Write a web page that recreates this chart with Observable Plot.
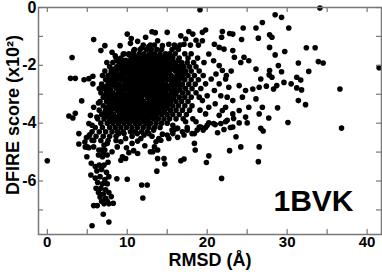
<!DOCTYPE html>
<html><head><meta charset="utf-8">
<script src="https://cdn.jsdelivr.net/npm/d3@7"></script>
<script src="https://cdn.jsdelivr.net/npm/@observablehq/plot@0.6"></script>
<style>body{margin:0;background:#fff;}</style>
</head><body><div id="chart"></div>
<script>
// Tick values
const xTickLabels = [0, 10, 20, 30, 40];
const yTickLabels = [0, -2, -4, -6];
const xTicks = [0, 5, 10, 15, 20, 25, 30, 35, 40];
const yTicks = [0, -1, -2, -3, -4, -5, -6, -7];
const xTitle = "RMSD (Å)";
const yTitle = "DFIRE score (x10²)";
const tag = "1BVK";

// [RMSD (Å), DFIRE score (x10^2)]
const topScatter = [[10.0,-0.92],[5.8,-1.11],[3.1,-1.73],[2.9,-2.45],[3.5,-2.45],[4.6,-2.5],[5.2,-2.46],[5.7,-2.38],[5.7,-2.64],[6.5,-2.8],[4.3,-3.23],[6.4,-3.3],[5.8,-3.45],[2.7,-3.75],[3.5,-3.66],[3.2,-3.82],[5.4,-3.73],[6.2,-3.79],[3.95,-4.36],[3.95,-4.72],[0,-5.3],
[6.7,-1.49],[7.2,-1.32],[8.1,-1.55],[9.1,-1.32],[10.5,-1.07],[11.3,-1.17],[10.4,-1.24],[13.1,-0.84],[12.3,-1.03],[7.45,-1.9],[7.8,-2.05],[8.7,-1.84],[9.3,-1.82],[8.5,-1.67],[9.5,-1.61],[10.2,-1.63],[10.8,-1.5],[11.8,-1.4],[12.0,-1.3],[12.7,-1.35],
[19.1,-0.08],[26.9,-0.52],[26.1,-0.71],[24.5,-0.71],[26.4,-1.06],[24.3,-1.11],[21.9,-0.83],[22.8,-0.9],[23.2,-0.92],[21.8,-1.03],[19.8,-0.78],[19.4,-0.86],[17.7,-0.83],[18.2,-0.92],[15.0,-0.86],[13.5,-0.87],[16.7,-0.98],[17.3,-1.09],[17.1,-1.27],[18.6,-1.13],[19.4,-1.15],[13.8,-1.15],[14.4,-1.32],[15.2,-1.27],[16.1,-1.38],[20.9,-1.27],[21.5,-1.38],[22.1,-1.44],[23.2,-1.49],[24.6,-1.72],[25.2,-1.84],[24.2,-1.9],[23.4,-1.72]];

const rightScatter = [[26.1,-2.13],[26.7,-2.47],[26.5,-2.76],[25.7,-2.82],[24.8,-2.87],[24.0,-2.7],[24.4,-3.1],[25.2,-3.45],[26.1,-3.16],[24.0,-3.56],[23.2,-3.22],[22.3,-3.45],[21.5,-3.73],[23.2,-3.68],[24.8,-3.79],[26.5,-3.68],[26.9,-3.45],
[20.2,-1.61],[20.8,-1.84],[21.5,-2.01],[21.9,-2.18],[21.1,-2.3],[20.5,-2.47],[19.8,-2.64],[21.5,-2.64],[22.3,-2.47],[22.7,-2.76],[20.9,-2.87],[20.0,-3.05],[21.7,-3.05],[22.5,-3.1],[21.0,-3.33],[19.4,-3.22],[20.2,-3.45],[21.9,-3.56],[19.8,-3.68],
[34.1,-0.02],[28.5,-0.25],[29.3,-0.34],[30.2,-0.71],[27.8,-0.94],[28.1,-1.03],[27.8,-1.38],[28.5,-1.64],[29.7,-1.52],[32.4,-1.39],[33.5,-1.39],[33.9,-1.87],[34.5,-1.92],[31.4,-1.92],[28.9,-2.01],[27.8,-2.18],[27.75,-2.33],[28.1,-2.41],[29.3,-2.22],[32.7,-2.21],[41.5,-2.08],[31.2,-2.41],[31.7,-2.51],[29.6,-2.59],[30.5,-2.64],[27.4,-2.72],[28.7,-2.7],[28.3,-2.82],[31.2,-2.78],[31.8,-2.85],[36.6,-2.82],[31.4,-3.22],[32.3,-3.36],[28.8,-3.47],[27.7,-3.82],[30.1,-3.98],[36.8,-4.17]];

const lowerBand = [[13.7,-5.66],[21.8,-5.91],[26.4,-5.33],[26.5,-4.82],[24.2,-4.82],[22.8,-4.95],[23.6,-4.47],[20.2,-5.13],[19.9,-5.36],[16.7,-5.3],[17.1,-5.24],[13.8,-5.22],[14.6,-5.22],[14.7,-5.41],[18.4,-4.7],[18.5,-4.93],[21.3,-4.33],[22.1,-4.22],[22.9,-4.15],[23.2,-4.13],[25.0,-3.99],[24.0,-3.99],[26.7,-4.18],[27.0,-4.27],
[21.0,-4.05],[20.2,-3.99],[19.8,-4.15],[19.5,-4.24],[19.0,-4.13],[18.4,-4.36],[17.5,-4.15],[17.1,-4.41],[16.3,-4.49],[15.7,-4.36],[15.2,-4.53],[14.4,-4.38],[14.2,-4.59],[13.6,-4.64],[13.4,-4.82],[13.8,-4.93],[13.2,-4.99],[15.7,-4.07],[16.3,-4.18],[15.9,-4.22],[17.3,-3.95],[18.6,-3.95],[22.3,-3.95],
[11.95,-6.59],[11.8,-6.14],[12.5,-6.14],[10.0,-5.94],[8.7,-5.92],[9.2,-5.28],[9.4,-5.16],[9.8,-5.22],[10.2,-5.02],[11.3,-5.05],[12.9,-4.99],[8.1,-4.99],[8.75,-4.82],[9.2,-4.64],[9.8,-4.53],[8.95,-4.36],[9.6,-4.36],[10.4,-4.3],[11.25,-4.36],[11.7,-4.53],[12.1,-4.41],[12.7,-4.36],[13.3,-4.24],[13.95,-4.53],[15.0,-4.41],[15.6,-4.24],[16.25,-4.18],[16.9,-4.3],[17.5,-4.24],[18.1,-4.36],[18.75,-4.24],[19.2,-4.13],[20.0,-4.07],[20.8,-4.01],[21.7,-4.01],[22.5,-3.9],[23.3,-3.84],
[10.6,-4.7],[11.3,-4.62],[12.2,-4.78],[10.8,-4.95],[9.9,-4.85]];

const leftTail = [[5.0,-4.82],[5.6,-4.59],[5.8,-4.82],[6.45,-4.93],[7.1,-4.76],[7.5,-4.7],[6.9,-5.16],[7.5,-5.1],[4.95,-5.16],[5.5,-5.39],[6.4,-5.1],[7.0,-5.05],[4.75,-4.82],[5.2,-4.85],[6.8,-4.93],[7.2,-4.93],[4.9,-4.5],[5.3,-4.4],[4.7,-4.65],[5.2,-4.01],[5.6,-4.07],
[5.45,-5.79],[6.0,-5.5],[6.5,-5.45],[7.1,-5.45],[7.6,-5.35],[6.2,-5.65],[6.8,-5.6],[7.4,-5.7],[6.0,-5.9],[6.6,-5.85],[7.2,-5.95],[7.7,-5.85],[6.3,-6.05],[6.9,-6.1],[7.5,-6.1],[6.1,-6.25],[6.7,-6.25],[7.3,-6.3],[6.4,-6.4],[7.0,-6.45],[7.7,-6.4],[6.6,-6.55],[7.3,-6.6],[8.0,-6.54],[6.8,-6.7],[7.5,-6.7],
[5.8,-6.85],[6.25,-6.85],[7.1,-6.79],[7.7,-6.79],[8.25,-6.77],[7.0,-7.15],[7.7,-7.42],[5.6,-7.55]];

// dense core: [score, RMSD values along that score]
const coreRows = [
[-1.3,[12.9,13.4,15.9,16.6,17.9,18.9]],
[-1.45,[10.9,11.6,12.4,13.0,13.7,14.3,15.6,16.4]],
[-1.6,[9.6,10.2,10.8,11.5,12.1,12.8,13.4,14.1,14.8,15.3,16.0,17.2,18.0]],
[-1.675,[10.8,11.4,12.1,12.7,13.4,14.0,14.7,15.4]],
[-1.75,[8.6,9.2,10.5,11.1,11.8,12.4,13.0,13.7,14.4,15.0,15.7,16.5,17.6,18.8]],
[-1.825,[9.8,10.4,11.0,11.7,12.3,13.0,13.6,14.2,14.9,15.6,16.4]],
[-1.9,[8.2,9.4,10.0,10.7,11.3,12.0,12.6,13.3,13.9,14.6,15.2,16.0,16.8,17.5,18.3,19.6]],
[-1.975,[9.0,9.6,10.3,10.9,11.5,12.2,12.8,13.5,14.1,14.7,15.4,16.1,16.8]],
[-2.05,[8.7,9.3,9.9,10.6,11.2,11.8,12.5,13.1,13.8,14.4,15.0,15.7,16.4,17.1,17.8,18.6]],
[-2.125,[8.3,9.0,9.6,10.4,11.0,11.6,12.3,12.9,13.6,14.2,14.8,15.5,16.2,16.9]],
[-2.2,[7.2,8.0,8.6,9.5,10.1,10.8,11.4,12.1,12.7,13.4,14.0,14.6,15.3,16.0,16.6,17.3,18.0,19.0,23.0]],
[-2.275,[8.0,8.6,9.3,9.9,10.6,11.2,11.9,12.5,13.1,13.8,14.4,15.1,16.5,17.2]],
[-2.35,[6.9,7.6,8.3,8.9,9.6,10.3,10.9,11.5,12.2,12.9,13.5,14.1,14.8,15.5,16.2,16.8,17.6,18.4,19.5,22.4]],
[-2.425,[7.6,8.3,9.0,9.6,10.3,10.9,11.6,12.2,12.8,13.5,14.2,14.8,15.5,16.1,16.9]],
[-2.5,[7.3,8.0,8.7,9.3,10.0,10.6,11.3,11.9,12.5,13.2,13.8,14.5,15.1,15.8,16.5,17.2,18.0,18.9]],
[-2.575,[7.7,8.4,9.7,10.3,11.0,11.6,12.3,12.9,13.6,14.2,15.6,16.3]],
[-2.65,[6.8,7.6,8.3,9.0,9.7,10.3,10.9,11.6,12.2,12.9,13.5,14.2,14.8,15.5,16.2,16.9,17.7,18.5]],
[-2.725,[7.4,8.0,8.7,9.4,10.0,10.7,11.3,12.0,12.6,13.3,13.9,14.6,15.2,15.9,16.6]],
[-2.8,[7.1,7.9,8.6,9.3,10.0,10.6,11.2,11.9,12.6,13.2,13.9,14.5,15.2,15.8,16.6,17.3,18.1,19.2]],
[-2.875,[7.6,9.0,9.6,10.3,10.9,11.6,12.2,12.9,13.5,14.2,14.8,15.5,16.3]],
[-2.95,[6.7,7.4,8.2,8.9,9.6,10.3,10.9,11.5,12.2,12.8,13.5,14.1,14.8,15.5,16.1,16.9,17.6,18.6]],
[-3.025,[7.3,8.0,8.6,9.3,10.0,10.6,11.3,11.9,12.6,13.2,13.9,14.5,15.2,15.9]],
[-3.1,[7.0,7.8,8.5,9.2,9.9,10.5,11.2,11.8,12.5,13.1,13.8,14.4,15.1,15.8,16.5,17.2,18.0,19.0]],
[-3.175,[7.6,8.3,9.0,9.7,10.3,11.0,11.6,12.9,13.6,14.2,14.9,15.6]],
[-3.25,[6.6,7.4,8.1,8.8,9.5,10.2,10.8,11.5,12.1,12.8,13.4,14.1,14.7,15.4,16.1,16.8,17.6]],
[-3.325,[8.0,8.7,9.4,10.0,10.7,11.3,12.0,12.6,13.3,13.9,14.6,15.3]],
[-3.4,[7.0,7.7,8.4,9.1,9.8,10.5,11.1,11.8,12.4,13.1,13.7,14.4,15.0,15.7,16.4,17.2,18.1]],
[-3.475,[7.5,8.2,8.9,9.6,10.3,10.9,11.6,12.2,12.9,13.5,14.2,14.9]],
[-3.55,[6.5,7.3,8.0,8.7,9.4,10.1,10.8,11.4,12.1,12.7,13.4,14.0,14.7,15.4,16.1,16.9,17.8,19.1]],
[-3.625,[7.2,7.9,9.3,10.0,10.7,11.3,12.0,12.6,13.3,13.9,14.6]],
[-3.7,[6.8,7.6,8.3,9.0,9.7,10.4,11.0,11.7,12.3,13.0,13.6,14.3,15.0,15.7,16.5,17.4]],
[-3.775,[7.4,8.2,8.9,9.6,10.3,11.0,11.6,12.3,12.9,13.6]],
[-3.85,[6.3,7.1,7.9,8.6,9.3,10.0,10.7,11.3,12.0,12.6,13.3,13.9,14.6,15.3,16.1,17.0,18.2]],
[-3.925,[7.8,8.5,9.2,9.9,10.6,11.3,11.9,12.6]],
[-4.0,[6.7,7.5,8.2,8.9,9.6,10.3,11.0,11.6,12.3,12.9,13.6,14.3,15.0]],
[-4.15,[6.0,6.9,7.8,8.5,9.2,9.9,10.6,11.3,12.0,12.7,13.4,14.1]],
[-4.3,[5.6,6.5,7.3,8.1,8.8,9.5,11.0,11.8,12.5]],
[-4.45,[5.2,6.1,7.0,7.8,8.6,10.6,13.1]],
[-4.6,[5.8,6.7,7.6,8.6]]
];

const points = [
  ...topScatter, ...rightScatter, ...lowerBand, ...leftTail,
  ...coreRows.flatMap(([s, xs]) => xs.map(x => [x, s]))
];

const W = 382, H = 272, ml = 38, mr = 1, mt = 7, mb = 38;
const innerW = W - ml - mr, innerH = H - mt - mb;
const font = "'Liberation Sans', Arial, Helvetica, sans-serif";
const gray = "#777";

const chart = Plot.plot({
  width: W, height: H,
  marginLeft: ml, marginRight: mr, marginTop: mt, marginBottom: mb,
  style: {fontFamily: font, background: "#fff", overflow: "visible"},
  x: {domain: [-1.1, 41.8]},
  y: {domain: [-7.85, 0]},
  marks: [
    Plot.dot(points, {x: d => d[0], y: d => d[1], r: 2.8, fill: "#000", stroke: "none"}),
    Plot.frame({stroke: gray, strokeWidth: 1.5}),
    Plot.tickX(xTicks, {x: d => d, insetTop: innerH - 5, stroke: gray, strokeWidth: 1.2}),
    Plot.tickX(xTicks, {x: d => d, insetBottom: innerH - 5, stroke: gray, strokeWidth: 1.2}),
    Plot.tickY(yTicks, {y: d => d, insetRight: innerW - 5, stroke: gray, strokeWidth: 1.2}),
    Plot.tickY(yTicks, {y: d => d, insetLeft: innerW - 5, stroke: gray, strokeWidth: 1.2}),
    Plot.axisX(xTickLabels, {tickSize: 0, tickPadding: 2, fontSize: 15, fontWeight: "bold", fill: "#000", label: null, tickFormat: d => String(d)}),
    Plot.axisY(yTickLabels, {tickSize: 0, tickPadding: 2, fontSize: 16, fontWeight: "bold", fill: "#000", label: null, tickFormat: d => String(d)}),
    Plot.text([xTitle], {text: d => d, frameAnchor: "bottom", textAnchor: "middle", dy: 31.5, fontSize: 18, fontWeight: "bold", fill: "#000"}),
    Plot.text([yTitle], {text: d => d, frameAnchor: "left", textAnchor: "middle", dx: -25, dy: -6, rotate: -90, fontSize: 18, fontWeight: "bold", fill: "#000"}),
    Plot.text([tag], {text: d => d, frameAnchor: "bottom-right", textAnchor: "end", dx: -28, dy: -24, fontSize: 30, fontWeight: "bold", fill: "#000"})
  ]
});
document.getElementById("chart").append(chart);
</script>
</body></html>
